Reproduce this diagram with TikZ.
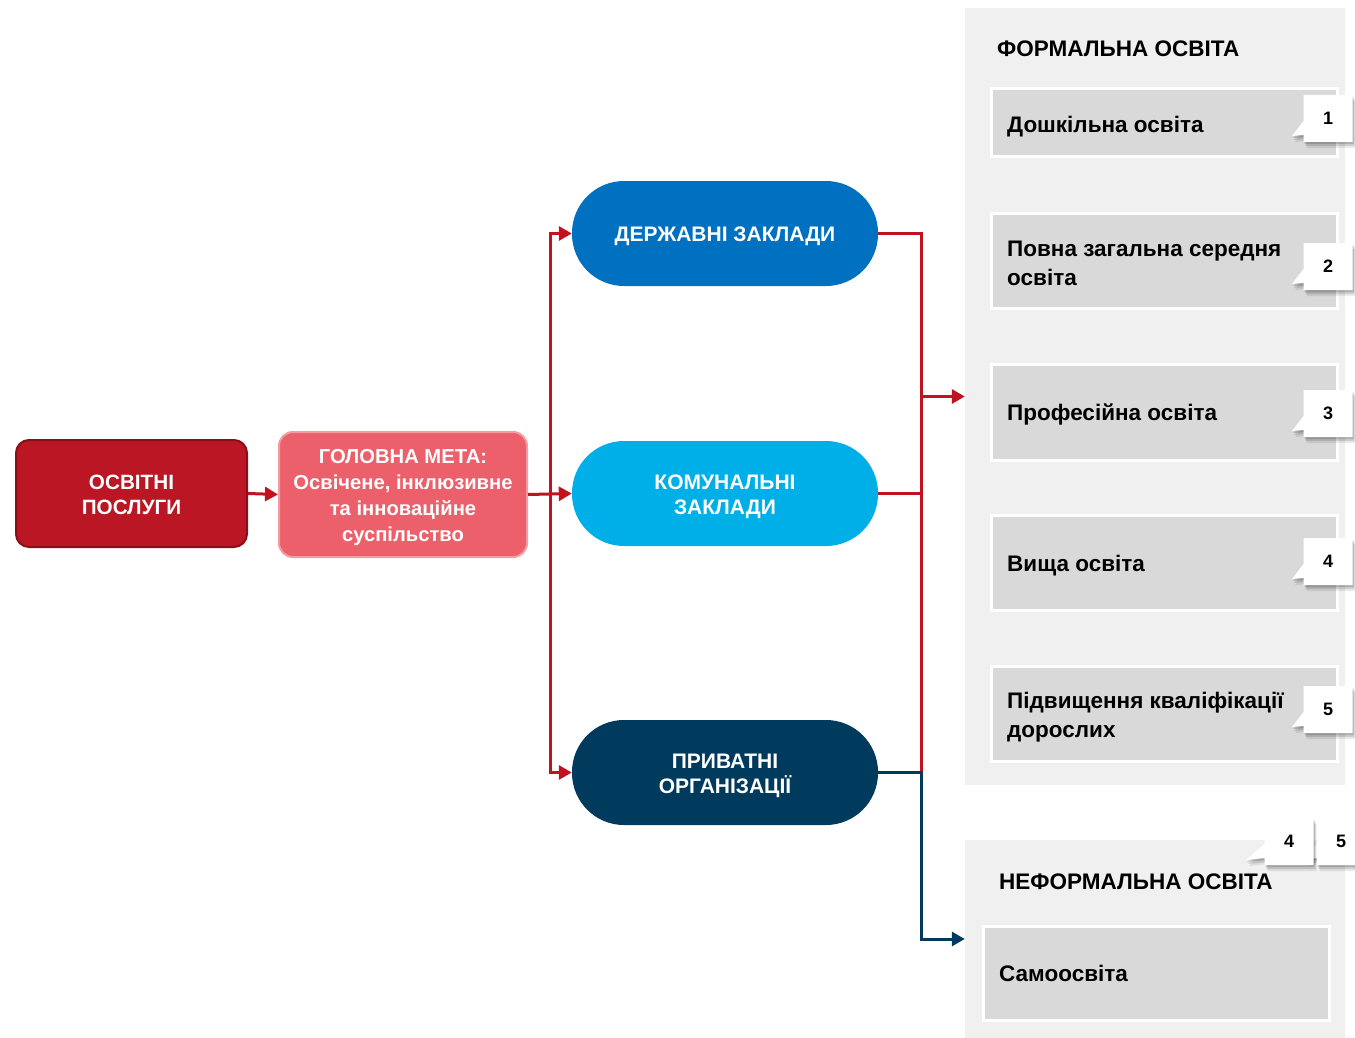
\documentclass[tikz,border=0pt]{standalone}
\usepackage{fontspec}
\setmainfont{Liberation Sans}
\usetikzlibrary{arrows.meta,shapes.callouts,shadows}
\definecolor{dred}{HTML}{BA1624}
\definecolor{dredb}{HTML}{8A0F18}
\definecolor{metaf}{HTML}{EC606B}
\definecolor{metab}{HTML}{F59AA1}
\definecolor{blueA}{HTML}{0070C0}
\definecolor{blueB}{HTML}{00AEE8}
\definecolor{navy}{HTML}{003A5D}
\definecolor{rline}{HTML}{C1121F}
\definecolor{panelc}{HTML}{F0F0F0}
\definecolor{itemc}{HTML}{D9D9D9}
\tikzset{
  every node/.style={font=\bfseries},
  srcbox/.style={draw=dredb, line width=2pt, fill=dred, rounded corners=13pt, minimum width=231pt, minimum height=107pt},
  metabox/.style={draw=metab, line width=2pt, fill=metaf, rounded corners=14pt, minimum width=248pt, minimum height=125pt},
  pill/.style={rounded corners=52pt, minimum width=306pt, minimum height=105pt},
  whitetext/.style={text=white, align=center, inner sep=0pt, yshift=-3pt},
  srctext/.style={whitetext, font=\bfseries\fontsize{20.7}{25}\selectfont, yshift=2pt},
  metatext/.style={whitetext, font=\bfseries\fontsize{20.2}{26}\selectfont},
  pilltext/.style={whitetext, font=\bfseries\fontsize{21}{25}\selectfont},
  panel/.style={fill=panelc, minimum width=380pt},
  itembox/.style={fill=itemc, draw=white, line width=3pt, minimum width=346pt},
  itemtext/.style={anchor=west, align=left, inner sep=0pt, font=\bfseries\fontsize{22.5}{29}\selectfont},
  paneltitle/.style={anchor=west, inner sep=0pt, font=\bfseries\fontsize{22.5}{26}\selectfont},
  numbox/.style={rectangle callout, fill=white, minimum width=49pt, minimum height=47pt, callout pointer width=14pt, font=\bfseries\fontsize{18}{20}\selectfont,
    drop shadow={shadow xshift=1pt, shadow yshift=-2pt, opacity=0.15, fill=black},
    drop shadow={shadow xshift=2pt, shadow yshift=-4pt, opacity=0.12, fill=black},
    drop shadow={shadow xshift=3pt, shadow yshift=-6pt, opacity=0.08, fill=black}},
  rl/.style={draw=rline, line width=3pt},
  nl/.style={draw=navy, line width=3pt},
  tip/.style={-{Triangle[length=13pt,width=14pt]}},
}
\begin{document}
\begin{tikzpicture}[x=1pt,y=-1pt]
\useasboundingbox (0,0) rectangle (1355,1038);
\fill[white] (0,0) rectangle (1355,1038);

% panels
\node[panel, minimum height=777pt] (formal) at (1155,396.5) {};
\node[panel, minimum height=198pt] (informal) at (1155,939) {};
\node[paneltitle] (ft) at (997,49) {ФОРМАЛЬНА ОСВІТА};
\node[paneltitle] (nt) at (999,882) {НЕФОРМАЛЬНА ОСВІТА};

% items
\node[itembox, minimum height=68pt] (i1) at (1164,123) {};
\node[itembox, minimum height=95pt] (i2) at (1164,260.5) {};
\node[itembox, minimum height=96pt] (i3) at (1164,412) {};
\node[itembox, minimum height=95pt] (i4) at (1164,562.5) {};
\node[itembox, minimum height=95pt] (i5) at (1164,713.5) {};
\node[itembox, minimum height=94pt] (i6) at (1156.5,973) {};
\node[itemtext] (t1) at (1007,127) {Дошкільна освіта};
\node[itemtext] (t2) at (1007,263) {Повна загальна середня\\ освіта};
\node[itemtext] (t3) at (1007,414) {Професійна освіта};
\node[itemtext] (t4) at (1007,566) {Вища освіта};
\node[itemtext] (t5) at (1007,717) {Підвищення кваліфікації\\ дорослих};
\node[itemtext] (t6) at (999,973.5) {Самоосвіта};

% callouts
\node[numbox, callout absolute pointer={(1292,136)}] (c1) at (1328,118.5) {1};
\node[numbox, callout absolute pointer={(1292,284)}] (c2) at (1328,266.5) {2};
\node[numbox, callout absolute pointer={(1292,431)}] (c3) at (1328,413.5) {3};
\node[numbox, callout absolute pointer={(1292,579)}] (c4) at (1328,561.5) {4};
\node[numbox, callout absolute pointer={(1292,727)}] (c5) at (1328,709.5) {5};
\node[numbox, callout absolute pointer={(1306,860)}] (c7) at (1341,841.5) {5};
\node[numbox, callout absolute pointer={(1246,860)}] (c6) at (1289,841.5) {4};

% left nodes
\node[srcbox] (src) at (131.5,493.5) {};
\node[srctext] (srct) at (src.center) {ОСВІТНІ\\ПОСЛУГИ};
\node[metabox] (meta) at (403,494.5) {};
\node[metatext] (metat) at (meta.center) {ГОЛОВНА МЕТА:\\Освічене, інклюзивне\\та інноваційне\\суспільство};

% pills
\node[pill, fill=blueA] (st) at (725,233.5) {};
\node[pill, fill=blueB] (co) at (725,493.5) {};
\node[pill, fill=navy] (pr) at (725,772.5) {};
\node[pilltext] (stt) at (st.center) {ДЕРЖАВНІ ЗАКЛАДИ};
\node[pilltext] (cot) at (co.center) {КОМУНАЛЬНІ\\ЗАКЛАДИ};
\node[pilltext] (prt) at (pr.center) {ПРИВАТНІ\\ОРГАНІЗАЦІЇ};

% connectors left
\coordinate (jl) at (550,494);
\draw[rl, tip] (src.east) -- (meta.west);
\draw[rl] (meta.east) -- (jl);
\draw[rl, tip] (jl) |- (st.west);
\draw[rl, tip] (jl) |- (pr.west);
\draw[rl, tip] (jl) -- (co.west);

% connectors right
\coordinate (jr) at (921,396.5);
\coordinate (jp) at (921,772.5);
\draw[rl] (st.east) -| (jr);
\draw[rl] (co.east) -| (jr);
\draw[rl] (jr) -- (jp);
\draw[rl, tip] (jr) -- (formal.west);
\draw[nl, tip] (pr.east) -- (jp) |- (informal.west);
\end{tikzpicture}
\end{document}
